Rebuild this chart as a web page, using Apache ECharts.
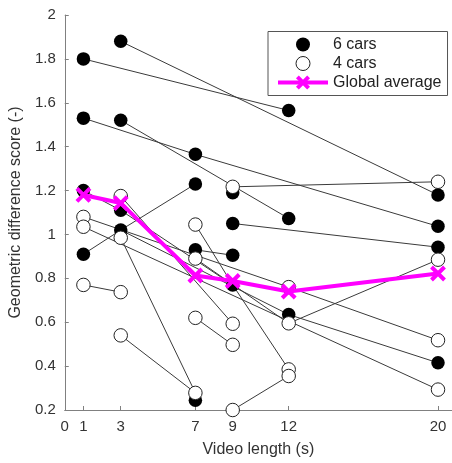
<!DOCTYPE html>
<html>
<head>
<meta charset="utf-8">
<script src="https://cdn.jsdelivr.net/npm/echarts@6/dist/echarts.min.js"></script>
<style>
html,body{margin:0;padding:0;background:#fff;}
#c{width:452px;height:463px;}
</style>
</head>
<body>
<div id="c"></div>
<script>
// ---- data ----
var xTicks = [0, 1, 3, 7, 9, 12, 20];
var yMin = 0.2, yMax = 2, yStep = 0.2;

// 6 cars (filled markers): [video length, score]
var cars6 = [
  [1, 1.80], [1, 1.53], [1, 1.20], [1, 0.91],
  [3, 1.88], [3, 1.52], [3, 1.11], [3, 1.02],
  [7, 1.365], [7, 1.23], [7, 0.93], [7, 0.245],
  [9, 1.19], [9, 1.05], [9, 0.905], [9, 0.77],
  [12, 1.565], [12, 1.073], [12, 0.635],
  [20, 1.18], [20, 1.037], [20, 0.942], [20, 0.415]
];

// 4 cars (open markers)
var cars4 = [
  [1, 1.08], [1, 1.035], [1, 0.77],
  [3, 1.175], [3, 0.985], [3, 0.737], [3, 0.54],
  [7, 1.045], [7, 0.89], [7, 0.62], [7, 0.278],
  [9, 1.217], [9, 0.593], [9, 0.497], [9, 0.2],
  [12, 0.76], [12, 0.595], [12, 0.385], [12, 0.355],
  [20, 1.24], [20, 0.885], [20, 0.518], [20, 0.293]
];

// global average
var avgX = [1, 3, 7, 9, 12, 20];
var avgY = [1.18, 1.143, 0.813, 0.788, 0.74, 0.822];

// connecting lines (data values)
var links = [
  [[1, 1.80], [12, 1.565]],
  [[3, 1.88], [20, 1.18]],
  [[1, 1.53], [7, 1.365], [20, 1.037]],
  [[3, 1.52], [12, 1.073]],
  [[1, 0.91], [3, 1.02], [7, 1.23]],
  [[9, 1.05], [20, 0.942]],
  [[7, 0.93], [9, 0.905]],
  [[1, 1.20], [3, 1.11], [9, 0.77]],
  [[3, 1.02], [12, 0.635], [20, 0.415]],
  [[9, 1.217], [20, 1.24]],
  [[7, 1.045], [9, 0.77], [12, 0.385]],
  [[3, 1.175], [9, 0.593]],
  [[7, 0.62], [9, 0.497]],
  [[9, 0.2], [12, 0.355]],
  [[1, 0.77], [3, 0.737]],
  [[3, 0.54], [7, 0.278]],
  [[3, 0.985], [7, 0.278]],
  [[1, 1.08], [12, 0.76], [20, 0.518]],
  [[1, 1.035], [20, 0.293]],
  [[7, 0.89], [12, 0.595], [20, 0.885]]
];

// ---- chart ----
var chart = echarts.init(document.getElementById('c'), null, {renderer: 'canvas'});
var FONT = 'Liberation Sans, Arial, sans-serif';
var series = [];
links.forEach(function (seg) {
  series.push({
    type: 'line', data: seg, symbol: 'none', silent: true, z: 1,
    lineStyle: {color: '#3a3a3a', width: 1}, animation: false
  });
});
series.push({
  name: '6 cars', type: 'scatter', data: cars6, symbol: 'circle', symbolSize: 13.5, z: 3,
  itemStyle: {color: '#000', opacity: 1}
});
series.push({
  name: '4 cars', type: 'scatter', data: cars4, symbol: 'circle', symbolSize: 13.5, z: 4,
  itemStyle: {color: '#fff', borderColor: '#222', borderWidth: 1, opacity: 1}
});
series.push({
  name: 'Global average', type: 'line', z: 6,
  data: avgX.map(function (x, i) { return [x, avgY[i]]; }),
  symbol: 'path://M0,0L10,10M10,0L0,10', symbolSize: 13,
  lineStyle: {color: '#ff00ff', width: 4},
  itemStyle: {color: '#ff00ff', borderColor: '#ff00ff', borderWidth: 4}
});

chart.setOption({
  animation: false,
  textStyle: {fontFamily: FONT},
  grid: {left: 62, top: 15, width: 398.1, height: 400},
  legend: {
    left: 268, top: 31.5, orient: 'vertical',
    itemWidth: 50, itemHeight: 14, itemGap: 3,
    padding: [5, 6, 5, 8],
    borderColor: '#555', borderWidth: 1, backgroundColor: '#fff',
    textStyle: {fontSize: 16, color: '#222', fontFamily: FONT},
    data: [
      {name: '6 cars'},
      {name: '4 cars', itemStyle: {borderWidth: 1}},
      {name: 'Global average', lineStyle: {width: 4, color: '#ff00ff'}, itemStyle: {borderWidth: 4}}
    ]
  },
  xAxis: {
    type: 'value', min: 0, max: 20.75,
    axisLine: {show: true, lineStyle: {color: '#808080', width: 1}},
    axisTick: {show: true, inside: true, length: 4, customValues: xTicks, lineStyle: {color: '#808080'}},
    axisLabel: {customValues: xTicks, fontSize: 15, color: '#333', margin: 9, fontFamily: FONT},
    splitLine: {show: false},
    name: 'Video length (s)', nameLocation: 'middle', nameGap: 32,
    nameTextStyle: {fontSize: 16, color: '#333', fontFamily: FONT}
  },
  yAxis: {
    type: 'value', min: yMin, max: yMax, interval: yStep,
    axisLine: {show: true, lineStyle: {color: '#808080', width: 1}},
    axisTick: {show: true, inside: true, length: 4, lineStyle: {color: '#808080'}},
    axisLabel: {
      fontSize: 15, color: '#333', margin: 9, fontFamily: FONT,
      formatter: function (v) { return String(+v.toFixed(1)); }
    },
    splitLine: {show: false},
    name: 'Geometric difference score (-)', nameLocation: 'middle', nameGap: 30, nameRotate: 90,
    nameTextStyle: {fontSize: 16, color: '#333', fontFamily: FONT}
  },
  series: series
});
</script>
</body>
</html>
